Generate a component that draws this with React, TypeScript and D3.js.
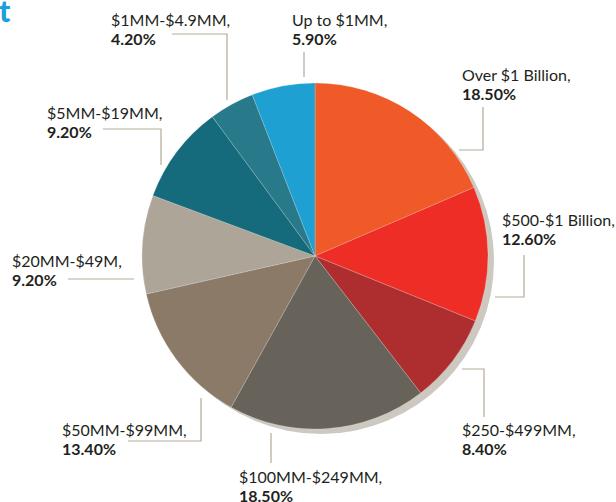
import React from "react";
import * as d3 from "d3";

const categories = [
  "Over $1 Billion,",
  "$500-$1 Billion,",
  "$250-$499MM,",
  "$100MM-$249MM,",
  "$50MM-$99MM,",
  "$20MM-$49M,",
  "$5MM-$19MM,",
  "$1MM-$4.9MM,",
  "Up to $1MM,",
];
const values = [18.5, 12.6, 8.4, 18.5, 13.4, 9.2, 9.2, 4.2, 5.9];
const valueLabels = ["18.50%", "12.60%", "8.40%", "18.50%", "13.40%", "9.20%", "9.20%", "4.20%", "5.90%"];
const colors = ["#f05a28", "#ee2e26", "#ae2e2f", "#67635a", "#8c7a68", "#aea599", "#156a7b", "#287a8a", "#1ea0d3"];

// label layout: text anchor position and leader polyline
const labelPos: [number, number][] = [
  [462, 81], [502, 226], [462, 436], [239, 483], [62, 436], [12, 267], [47, 119], [111, 26], [292, 26],
];
const leaders: [number, number][][] = [
  [[483, 107], [483, 150], [459, 150]],
  [[524, 255], [524, 297], [495, 297]],
  [[484, 417], [484, 369], [462, 369]],
  [[271, 463], [271, 433]],
  [[128, 441], [201, 441], [201, 398]],
  [[68, 279], [134, 279]],
  [[103, 129], [161, 129], [161, 165]],
  [[172, 34], [227, 34], [227, 100]],
  [[304, 52], [304, 77]],
];

const W = 616, H = 502;
const cx = 315, cy = 256, R = 173;

export default function App() {
  const pie = d3.pie<number>().sort(null).value((d) => d)(values);
  const arc = d3.arc<d3.PieArcDatum<number>>().innerRadius(0).outerRadius(R);
  const line = d3.line();
  const font = "Lato, 'Open Sans', sans-serif";
  return (
    <svg width={W} height={H} style={{ position: "absolute", left: 0, top: 0 }} fontFamily={font}>
      <rect width={W} height={H} fill="#ffffff" />
      <text x={-1} y={22} fontSize={30} fontWeight="900" fill="#1aa0dc">t</text>
      <circle cx={cx + 6} cy={cy + 5} r={R} fill="#cdc9c1" />
      <g transform={`translate(${cx},${cy})`}>
        {pie.map((p, i) => (
          <path key={i} d={arc(p) || ""} fill={colors[i]} stroke="#ffffff" strokeOpacity={0.25} strokeWidth={0.8} />
        ))}
      </g>
      {leaders.map((pts, i) => (
        <path key={i} d={line(pts) || ""} fill="none" stroke="#b3a999" strokeWidth={1.2} />
      ))}
      {categories.map((c, i) => (
        <text key={i} x={labelPos[i][0]} y={labelPos[i][1]} fontSize={16} fill="#231f20">
          <tspan x={labelPos[i][0]}>{c}</tspan>
          <tspan x={labelPos[i][0]} dy={19} fontWeight="bold">{valueLabels[i]}</tspan>
        </text>
      ))}
    </svg>
  );
}
